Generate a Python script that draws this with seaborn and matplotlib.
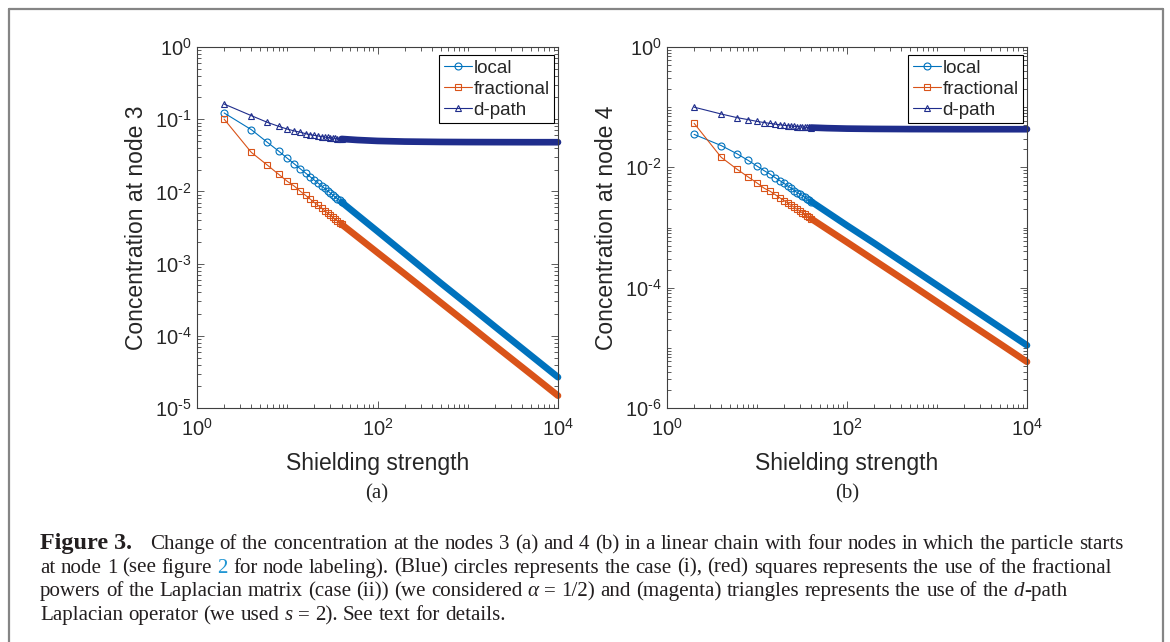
import numpy as np
import pandas as pd
import matplotlib
matplotlib.use("Agg")
import matplotlib.pyplot as plt
import seaborn as sns
from matplotlib.ticker import LogLocator, FixedLocator, NullFormatter, FuncFormatter
from matplotlib.lines import Line2D
from matplotlib.transforms import IdentityTransform

# ---------------- data ----------------
shielding = [2, 4, 6, 8, 10, 12, 14, 16, 18, 20, 22, 24, 26, 28, 30, 32, 34, 36, 38,
             40, 60, 100, 200, 500, 1000, 2000, 5000, 10000]

# panel (a): concentration at node 3
local_a = [0.122, 0.0716, 0.048, 0.0363, 0.0288, 0.024, 0.0205, 0.0179, 0.0159, 0.0143,
           0.0130, 0.0119, 0.0110, 0.0102, 0.0095, 0.0089, 0.0084, 0.0079, 0.0075,
           0.0071, 0.0047, 0.0028, 0.00138, 0.00054, 0.000270, 0.000134, 5.35e-5, 2.67e-5]
frac_a = [0.1, 0.0347, 0.0232, 0.0173, 0.0138, 0.0118, 0.0100, 0.0088, 0.0078, 0.0070,
          0.0064, 0.0059, 0.0054, 0.0050, 0.0047, 0.0044, 0.0041, 0.0039, 0.0037,
          0.0035, 0.00235, 0.00142, 0.00072, 0.00029, 0.000146, 7.3e-5, 2.95e-5, 1.48e-5]
dpath_a = [0.162, 0.112, 0.0906, 0.0798, 0.073, 0.0687, 0.066, 0.063, 0.061, 0.0597,
           0.0585, 0.0575, 0.0565, 0.0558, 0.0552, 0.0548, 0.0544, 0.0540, 0.0536,
           0.0533, 0.0515, 0.0500, 0.0490, 0.0484, 0.0482, 0.0481, 0.0480, 0.0480]

# panel (b): concentration at node 4
local_b = [0.0353, 0.0230, 0.0168, 0.0130, 0.0105, 0.0088, 0.0077, 0.0067, 0.0060, 0.0054,
           0.0049, 0.0045, 0.0041, 0.0038, 0.0036, 0.0034, 0.0032, 0.0030, 0.00285,
           0.0027, 0.0018, 0.00108, 0.00055, 0.00022, 0.00011, 5.5e-5, 2.2e-5, 1.1e-5]
frac_b = [0.054, 0.0147, 0.0093, 0.0069, 0.0055, 0.0045, 0.0040, 0.0035, 0.0031, 0.0028,
          0.00255, 0.00234, 0.00216, 0.0020, 0.00187, 0.00175, 0.00165, 0.00156, 0.00148,
          0.0014, 0.00094, 0.00057, 0.000287, 0.000116, 5.8e-5, 2.9e-5, 1.17e-5, 5.85e-6]
dpath_b = [0.1, 0.077, 0.067, 0.062, 0.058, 0.0555, 0.0537, 0.0522, 0.051, 0.050,
           0.0492, 0.0485, 0.048, 0.0475, 0.0471, 0.0468, 0.0465, 0.0462, 0.0460,
           0.0458, 0.0448, 0.0440, 0.0435, 0.0432, 0.0431, 0.0430, 0.0430, 0.0430]

methods = ["local", "fractional", "d-path"]
ylabels = ["Concentration at node 3", "Concentration at node 4"]
xlabel_text = "Shielding strength"
panel_letters = ["(a)", "(b)"]
xticks = [1, 1e2, 1e4]
yticks_a = [1e-5, 1e-4, 1e-3, 1e-2, 1e-1, 1e0]
yticks_b = [1e-6, 1e-4, 1e-2, 1e0]

# ---------------- style ----------------
colors = {"local": "#0072BD", "fractional": "#D95319", "d-path": "#1F2D8C"}
markers = {"local": "o", "fractional": "s", "d-path": "^"}
msizes = {"local": 5.0, "fractional": 3.8, "d-path": 5.0}
axcol = "#404040"
txtcol = "#262626"

sns.set_style("ticks")
plt.rcParams["font.family"] = ["Liberation Sans", "DejaVu Sans"]
plt.rcParams["mathtext.fontset"] = "custom"
plt.rcParams["mathtext.rm"] = "Liberation Sans"
plt.rcParams["mathtext.it"] = "Liberation Sans:italic"
plt.rcParams["axes.unicode_minus"] = False

W, H = 1170, 642
fig = plt.figure(figsize=(W / 100, H / 100), dpi=100)
fig.patch.set_facecolor("white")


def frame(x0, y0, x1, y1):
    return [x0 / W, 1 - y1 / H, (x1 - x0) / W, (y1 - y0) / H]


ax_a = fig.add_axes(frame(197, 47, 558, 408))
ax_b = fig.add_axes(frame(667, 47, 1027, 408))


def make_df(loc, frac, dp):
    rows = []
    for m, vals in zip(methods, (loc, frac, dp)):
        for x, v in zip(shielding, vals):
            rows.append({"shielding": x, "conc": v, "method": m})
    return pd.DataFrame(rows)


DENSE_FROM = 40


def fmt_func(v, p):
    e = int(round(np.log10(v)))
    s = ("\u2010%d" % abs(e)) if e < 0 else "%d" % e
    return r"$\mathregular{10^{%s}}$" % s


fmt = FuncFormatter(fmt_func)


def draw(ax, df, ylim, yticks, ylabel):
    for m in methods:
        sub = df[df.method == m]
        head = sub[sub.shielding <= DENSE_FROM]
        tail = sub[sub.shielding >= DENSE_FROM]
        sns.lineplot(data=tail, x="shielding", y="conc", ax=ax, color=colors[m],
                     linewidth=4.8, solid_capstyle="round", clip_on=False,
                     estimator=None, legend=False)
        sns.lineplot(data=head, x="shielding", y="conc", ax=ax, color=colors[m],
                     linewidth=0.8, marker=markers[m], markersize=msizes[m],
                     markerfacecolor="none", markeredgecolor=colors[m],
                     markeredgewidth=0.8, estimator=None, legend=False)
    ax.set_xscale("log")
    ax.set_yscale("log")
    ax.set_xlim(1, 1e4)
    ax.set_ylim(*ylim)
    ax.xaxis.set_major_locator(FixedLocator(xticks))
    ax.xaxis.set_minor_locator(LogLocator(base=10, subs=np.arange(1, 10), numticks=100))
    ax.yaxis.set_major_locator(FixedLocator(yticks))
    ax.yaxis.set_minor_locator(LogLocator(base=10, subs=np.arange(1, 10), numticks=100))
    ax.xaxis.set_major_formatter(fmt)
    ax.yaxis.set_major_formatter(fmt)
    ax.xaxis.set_minor_formatter(NullFormatter())
    ax.yaxis.set_minor_formatter(NullFormatter())
    ax.tick_params(which="both", direction="in", top=True, right=True,
                   color=axcol, labelcolor=txtcol, width=0.6, labelsize=14.5)
    ax.tick_params(which="major", length=5)
    ax.tick_params(which="minor", length=2.8)
    ax.tick_params(axis="x", pad=7)
    ax.tick_params(axis="y", pad=4)
    for s in ax.spines.values():
        s.set_visible(True)
        s.set_color(axcol)
        s.set_linewidth(0.8)
    ax.set_xlabel(xlabel_text, fontsize=16.5, color=txtcol)
    ax.set_ylabel(ylabel, fontsize=16.5, color=txtcol)
    ax.xaxis.set_label_coords(0.5, -0.122)
    ax.yaxis.set_label_coords(-0.136, 0.5)
    ax.grid(False)
    handles = [Line2D([], [], color=colors[m], linewidth=0.8, marker=markers[m],
                      markersize=msizes[m], markerfacecolor="none",
                      markeredgecolor=colors[m], markeredgewidth=0.8) for m in methods]
    leg = ax.legend(handles, methods, loc="upper right", bbox_to_anchor=(0.99, 0.978),
                    borderaxespad=0, fontsize=13.5, frameon=True, fancybox=False,
                    framealpha=1, edgecolor="black", handlelength=1.5,
                    handletextpad=0.1, labelspacing=0.2, borderpad=0.25)
    leg.get_frame().set_linewidth(0.8)
    for t in leg.get_texts():
        t.set_color(txtcol)


draw(ax_a, make_df(local_a, frac_a, dpath_a), (1e-5, 1), yticks_a, ylabels[0])
draw(ax_b, make_df(local_b, frac_b, dpath_b), (1e-6, 1), yticks_b, ylabels[1])

serif = ["Liberation Serif", "DejaVu Serif"]
capcol = "#231F20"
fig.text(377, H - 494, panel_letters[0], transform=IdentityTransform(), ha="center",
         va="center", fontsize=15, family=serif, color=txtcol)
fig.text(847, H - 494, panel_letters[1], transform=IdentityTransform(), ha="center",
         va="center", fontsize=15, family=serif, color=txtcol)

# ---------------- outer frame ----------------
fc = "#858585"
for xs, ys in [([9, 9], [0, H - 9]), ([9, 1163], [H - 9, H - 9]), ([1163, 1163], [0, H - 9])]:
    fig.add_artist(Line2D(xs, ys, transform=IdentityTransform(), color=fc, linewidth=1.6))

# ---------------- caption ----------------
renderer = fig.canvas.get_renderer()


def words(s, **kw):
    return [[(w, kw)] for w in s.split()]


it = {"style": "italic"}
L1 = words("Change of the concentration at the nodes 3 (a) and 4 (b) in a linear chain with four nodes in which the particle starts")
L2 = (words("at node 1 (see figure") + [[("2", {"color": "#2196D3"})]] +
      words("for node labeling). (Blue) circles represents the case (i), (red) squares represents the use of the fractional"))
L3 = (words("powers of the Laplacian matrix (case (ii)) (we considered") + [[("\u03b1", it)]] +
      words("= 1/2) and (magenta) triangles represents the use of the") + [[("d", it), ("-path", {})]])
L4 = words("Laplacian operator (we used") + [[("s", it)]] + words("= 2). See text for details.")


def text_w(s, fs, **kw):
    t = fig.text(0, 0, s, transform=IdentityTransform(), fontsize=fs, family=serif, **kw)
    w = t.get_window_extent(renderer).width
    t.remove()
    return w


def layout_line(line, x0, y, fs):
    arts = []
    sp = text_w("a a", fs) - text_w("aa", fs)
    x = x0
    for word in line:
        for txt, kw in word:
            t = fig.text(x, H - y, txt, transform=IdentityTransform(), fontsize=fs,
                         family=serif, color=kw.get("color", capcol),
                         style=kw.get("style", "normal"), ha="left", va="baseline")
            x += t.get_window_extent(renderer).width
            arts.append(t)
        x += sp
    return arts, x - sp


arts, end = layout_line(L1, 150, 549, 12)
for a in arts:
    a.remove()
cap_fs = 12 * (1117 - 150) / (end - 150)

fig.text(40, H - 549, "Figure 3.", transform=IdentityTransform(), fontsize=cap_fs * 1.15,
         family=serif, weight="bold", color=capcol, ha="left", va="baseline")
for line, yb in zip([L1, L2, L3, L4], [549, 572.7, 596.4, 620]):
    layout_line(line, 150 if line is L1 else 40, yb, cap_fs)

fig.savefig("out.png", dpi=100)
